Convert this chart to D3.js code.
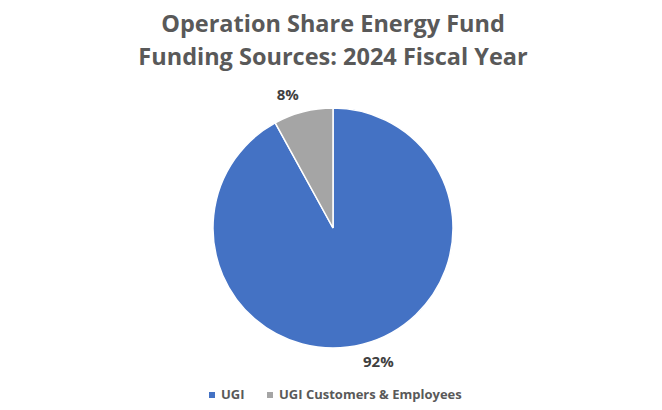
<!DOCTYPE html>
<html lang="en">
<head>
    <meta charset="UTF-8">
    <title>Operation Share Energy Fund</title>
    <style>
        body { margin: 0; background: #fff; }
        svg { display: block; font-family: "Open Sans", sans-serif; font-weight: bold; }
        .title { font-size: 23.5px; fill: #595959; text-anchor: middle; }
        .pct { font-size: 15px; fill: #404040; text-anchor: middle; }
        .legend-label { font-size: 13px; fill: #595959; }
    </style>
</head>
<body>
    <script src="https://d3js.org/d3.v7.min.js"></script>
    <script>
        const categories = ["UGI", "UGI Customers & Employees"];
        const shares = [92, 8];
        const colors = ["#4472C4", "#A5A5A5"];
        const titleLines = ["Operation Share Energy Fund", "Funding Sources: 2024 Fiscal Year"];

        const width = 662;
        const height = 410;
        const cx = 333, cy = 228, radius = 120;

        const svg = d3.select("body").append("svg")
            .attr("width", width)
            .attr("height", height);

        // title, two lines
        svg.append("g").selectAll("text")
            .data(titleLines)
            .enter().append("text")
            .attr("class", "title")
            .attr("x", width / 2 + 2)
            .attr("y", (d, i) => 32 + i * 33)
            .text(d => d);

        const color = d3.scaleOrdinal().domain(categories).range(colors);

        const pie = d3.pie().sort(null).value(d => d.value);
        const arcs = pie(categories.map((c, i) => ({ name: c, value: shares[i] })));

        const arc = d3.arc().innerRadius(0).outerRadius(radius);
        const labelArc = d3.arc().innerRadius(radius + 18).outerRadius(radius + 18);

        const g = svg.append("g").attr("transform", `translate(${cx},${cy})`);

        g.selectAll("path")
            .data(arcs)
            .enter().append("path")
            .attr("d", arc)
            .attr("fill", d => color(d.data.name))
            .attr("stroke", "#fff")
            .attr("stroke-width", 1.5);

        const total = d3.sum(shares);
        g.selectAll(".pct")
            .data(arcs)
            .enter().append("text")
            .attr("class", "pct")
            .attr("transform", d => {
                const [x, y] = labelArc.centroid(d);
                return `translate(${x + Math.sign(x) * 11},${y})`;
            })
            .attr("dy", "0.35em")
            .text(d => Math.round(d.data.value / total * 100) + "%");

        // legend
        const legendX = [209, 267];
        const legend = svg.append("g")
            .selectAll("g")
            .data(categories)
            .enter().append("g")
            .attr("transform", (d, i) => `translate(${legendX[i]},392)`);

        legend.append("rect")
            .attr("width", 6)
            .attr("height", 6)
            .attr("fill", d => color(d));

        legend.append("text")
            .attr("class", "legend-label")
            .attr("x", 12)
            .attr("y", 6.5)
            .text(d => d);
    </script>
</body>
</html>
